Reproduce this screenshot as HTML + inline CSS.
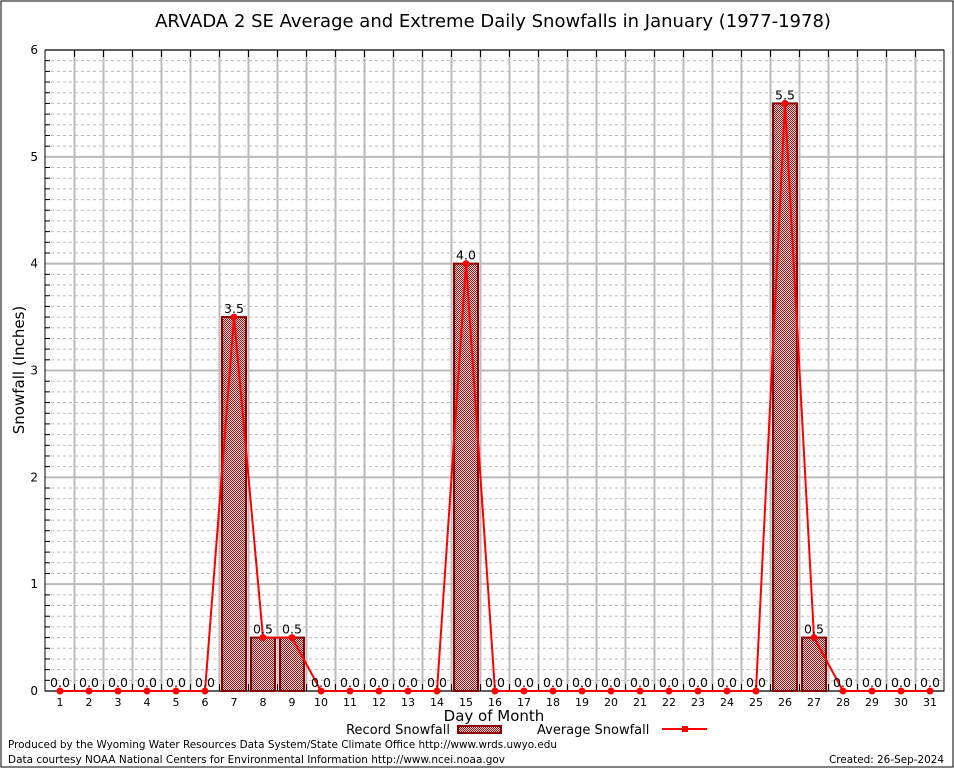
<!DOCTYPE html>
<html><head><meta charset="utf-8"><style>
body{margin:0;background:#fff}
svg{display:block}
text{font-family:"DejaVu Sans","Liberation Sans",sans-serif}
</style></head><body>
<svg id="c" width="954" height="768" xmlns="http://www.w3.org/2000/svg">
<defs>
<pattern id="hatch" width="2" height="2" patternUnits="userSpaceOnUse">
<rect width="2" height="2" fill="#f4dcdc"/>
<rect width="1" height="1" fill="#a01010"/><rect x="1" y="1" width="1" height="1" fill="#a01010"/>
</pattern>
</defs>
<rect x="1" y="1" width="952" height="766" fill="#fff" stroke="#000"/>
<text x="493" y="27" font-size="18" text-anchor="middle">ARVADA 2 SE Average and Extreme Daily Snowfalls in January (1977-1978)</text>
<g id="grid"></g><g id="bars"></g><g id="line"></g><g id="labels"></g>
<text x="24" y="370" font-size="15" text-anchor="middle" transform="rotate(-90 24 370)">Snowfall (Inches)</text>
<text x="494" y="721" font-size="15" text-anchor="middle">Day of Month</text>
<g>
<text x="450" y="734" font-size="13" text-anchor="end">Record Snowfall</text>
<rect x="458" y="726" width="43" height="7" fill="url(#hatch)" stroke="#8b0000" stroke-width="2"/>
<text x="537" y="734" font-size="13">Average Snowfall</text>
<line x1="662" y1="729" x2="707" y2="729" stroke="red" stroke-width="2"/>
<rect x="682" y="726" width="6" height="6" fill="red"/>
</g>
<text x="8" y="748" font-size="11" textLength="549" lengthAdjust="spacingAndGlyphs">Produced by the Wyoming Water Resources Data System/State Climate Office http://www.wrds.uwyo.edu</text>
<text x="8" y="763" font-size="11" textLength="497" lengthAdjust="spacingAndGlyphs">Data courtesy NOAA National Centers for Environmental Information http://www.ncei.noaa.gov</text>
<text x="829" y="763" font-size="11" textLength="115" lengthAdjust="spacingAndGlyphs">Created:  26-Sep-2024</text>
</svg>
<script>
const days=[1,2,3,4,5,6,7,8,9,10,11,12,13,14,15,16,17,18,19,20,21,22,23,24,25,26,27,28,29,30,31];
const recordSnow=[0,0,0,0,0,0,3.5,0.5,0.5,0,0,0,0,0,4.0,0,0,0,0,0,0,0,0,0,0,5.5,0.5,0,0,0,0];
const avgSnow=[0,0,0,0,0,0,3.5,0.5,0.5,0,0,0,0,0,4.0,0,0,0,0,0,0,0,0,0,0,5.5,0.5,0,0,0,0];
const yTicks=[0,1,2,3,4,5,6];
const L=45,R=944,T=50,B=691,yMax=6;
const x=d=>60+(d-1)*29;
const y=v=>B-v*(B-T)/yMax;
const NS="http://www.w3.org/2000/svg";
function mk(tag,attrs,parent,txt){const e=document.createElementNS(NS,tag);for(const k in attrs)e.setAttribute(k,attrs[k]);if(txt!==undefined)e.textContent=txt;document.getElementById(parent).appendChild(e);return e;}
for(let i=1;i<yMax*10;i++){if(i%10===0)continue;const yy=y(i/10);
const e=mk('line',{x1:L,x2:R,y1:yy,y2:yy,stroke:'#bbb','stroke-dasharray':'3,3'},'grid');

const t=mk('line',{x1:L,x2:L+5,y1:yy,y2:yy,stroke:'#000'},'grid');}
yTicks.forEach(v=>{const yy=y(v);
const e=mk('line',{x1:L,x2:R,y1:yy,y2:yy,stroke:'#bbb','stroke-width':2},'grid');

const t=mk('text',{x:L-7,y:yy+4,'font-size':12,'text-anchor':'end','font-family':'DejaVu Serif,serif'},'grid',String(v));
});
days.forEach((d,i)=>{
if(i<days.length-1){const gx=x(d)+14.5;
const g=mk('line',{x1:gx,x2:gx,y1:T,y2:B,stroke:'#bbb','stroke-width':2},'grid');
const t1=mk('line',{x1:gx,x2:gx,y1:T,y2:T+7,stroke:'#000'},'grid');
const t2=mk('line',{x1:gx,x2:gx,y1:B-7,y2:B,stroke:'#000'},'grid');}
const t=mk('text',{x:x(d),y:B+15,'font-size':11,'text-anchor':'middle','font-family':'DejaVu Serif,serif'},'grid',String(d));

});
const ax=mk('rect',{x:L,y:T,width:R-L,height:B-T,fill:'none',stroke:'#000'},'grid');
days.forEach((d,i)=>{const v=recordSnow[i];
if(v>0){const b=mk('rect',{x:x(d)-12,y:y(v),width:24,height:B-y(v),fill:'url(#hatch)',stroke:'#8b0000','stroke-width':2},'bars');
}
const l=mk('text',{x:x(d),y:y(v)-4,'font-size':12.5,'text-anchor':'middle'},'labels',v.toFixed(1));
});
const pts=days.map((d,i)=>x(d)+','+y(avgSnow[i])).join(' ');
const pl=mk('polyline',{points:pts,fill:'none',stroke:'red','stroke-width':2},'line');
days.forEach((d,i)=>{const p=mk('circle',{cx:x(d),cy:y(avgSnow[i]),r:3.5,fill:'red'},'line');
});
</script>
</body></html>
